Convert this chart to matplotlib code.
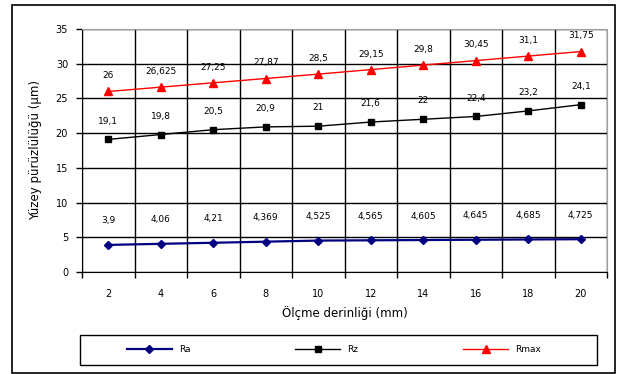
import matplotlib.pyplot as plt
from matplotlib.patches import Rectangle
from matplotlib.lines import Line2D

depth = [2, 4, 6, 8, 10, 12, 14, 16, 18, 20]
ra = [3.9, 4.06, 4.21, 4.369, 4.525, 4.565, 4.605, 4.645, 4.685, 4.725]
rz = [19.1, 19.8, 20.5, 20.9, 21, 21.6, 22, 22.4, 23.2, 24.1]
rmax = [26, 26.625, 27.25, 27.87, 28.5, 29.15, 29.8, 30.45, 31.1, 31.75]
ra_text = ["3,9", "4,06", "4,21", "4,369", "4,525", "4,565", "4,605", "4,645", "4,685", "4,725"]
rz_text = ["19,1", "19,8", "20,5", "20,9", "21", "21,6", "22", "22,4", "23,2", "24,1"]
rmax_text = ["26", "26,625", "27,25", "27,87", "28,5", "29,15", "29,8", "30,45", "31,1", "31,75"]
y_ticks = [0, 5, 10, 15, 20, 25, 30, 35]

plt.rcParams['font.family'] = ['DejaVu Sans']
W, H = 620, 374
fig = plt.figure(figsize=(W / 100, H / 100), dpi=100)

# outer chart frame
fig.patches.append(Rectangle((12 / W, 1 - 373 / H), 603 / W, 368 / H,
                             transform=fig.transFigure, fill=False,
                             edgecolor='black', linewidth=1.2))
# legend frame
fig.patches.append(Rectangle((80 / W, 1 - 365 / H), 517 / W, 30 / H,
                             transform=fig.transFigure, fill=False,
                             edgecolor='black', linewidth=1))

ax = fig.add_axes([82 / W, 1 - 272 / H, 525 / W, 243 / H])
pos = list(range(len(depth)))
ax.set_xlim(-0.5, len(depth) - 0.5)
ax.set_ylim(0, 35)

for s in ['top', 'right']:
    ax.spines[s].set_color('#a0a0a0')
ax.spines['left'].set_color('black')
ax.spines['bottom'].set_color('black')

ax.set_yticks(y_ticks)
ax.set_yticklabels([str(v) for v in y_ticks], fontsize=7)
ax.set_xticks(pos)
ax.set_xticklabels([str(d) for d in depth], fontsize=7)
ax.tick_params(axis='x', length=0, pad=12)
ax.tick_params(axis='y', length=4, width=1, pad=6)
# category boundary ticks and gridlines
ax.set_xticks([p - 0.5 for p in pos] + [len(depth) - 0.5], minor=True)
ax.tick_params(axis='x', which='minor', length=4, width=1)
ax.grid(True, which='major', axis='y', color='black', linewidth=1)
ax.grid(True, which='minor', axis='x', color='black', linewidth=1)
ax.set_axisbelow(True)

ax.plot(pos, ra, color='#000080', linewidth=1.6, marker='D', markersize=4)
ax.plot(pos, rz, color='black', linewidth=1, marker='s', markersize=5)
ax.plot(pos, rmax, color='red', linewidth=1, marker='^', markersize=5.5)

for vals, texts, off in [(ra, ra_text, 14), (rz, rz_text, 10), (rmax, rmax_text, 8)]:
    for p, v, t in zip(pos, vals, texts):
        ax.annotate(t, (p, v), xytext=(0, off), textcoords='offset points',
                    ha='center', va='bottom', fontsize=6.5)

ax.set_xlabel('Ölçme derinliği (mm)', fontsize=8.5, labelpad=5)
ax.set_ylabel('Yüzey pürüzlülüğü (µm)', fontsize=8.5, labelpad=10)

handles = [Line2D([], [], color='#000080', linewidth=1.6, marker='D', markersize=4),
           Line2D([], [], color='black', linewidth=1, marker='s', markersize=5),
           Line2D([], [], color='red', linewidth=1, marker='^', markersize=5.5)]
leg = fig.legend(handles, ['Ra', 'Rz', 'Rmax'], loc='center',
                 bbox_to_anchor=(334 / W, 1 - 350 / H), ncol=3, fontsize=6.5,
                 frameon=False, handlelength=5, handletextpad=0.8,
                 columnspacing=11.6)

fig.savefig('out.png', dpi=100)
